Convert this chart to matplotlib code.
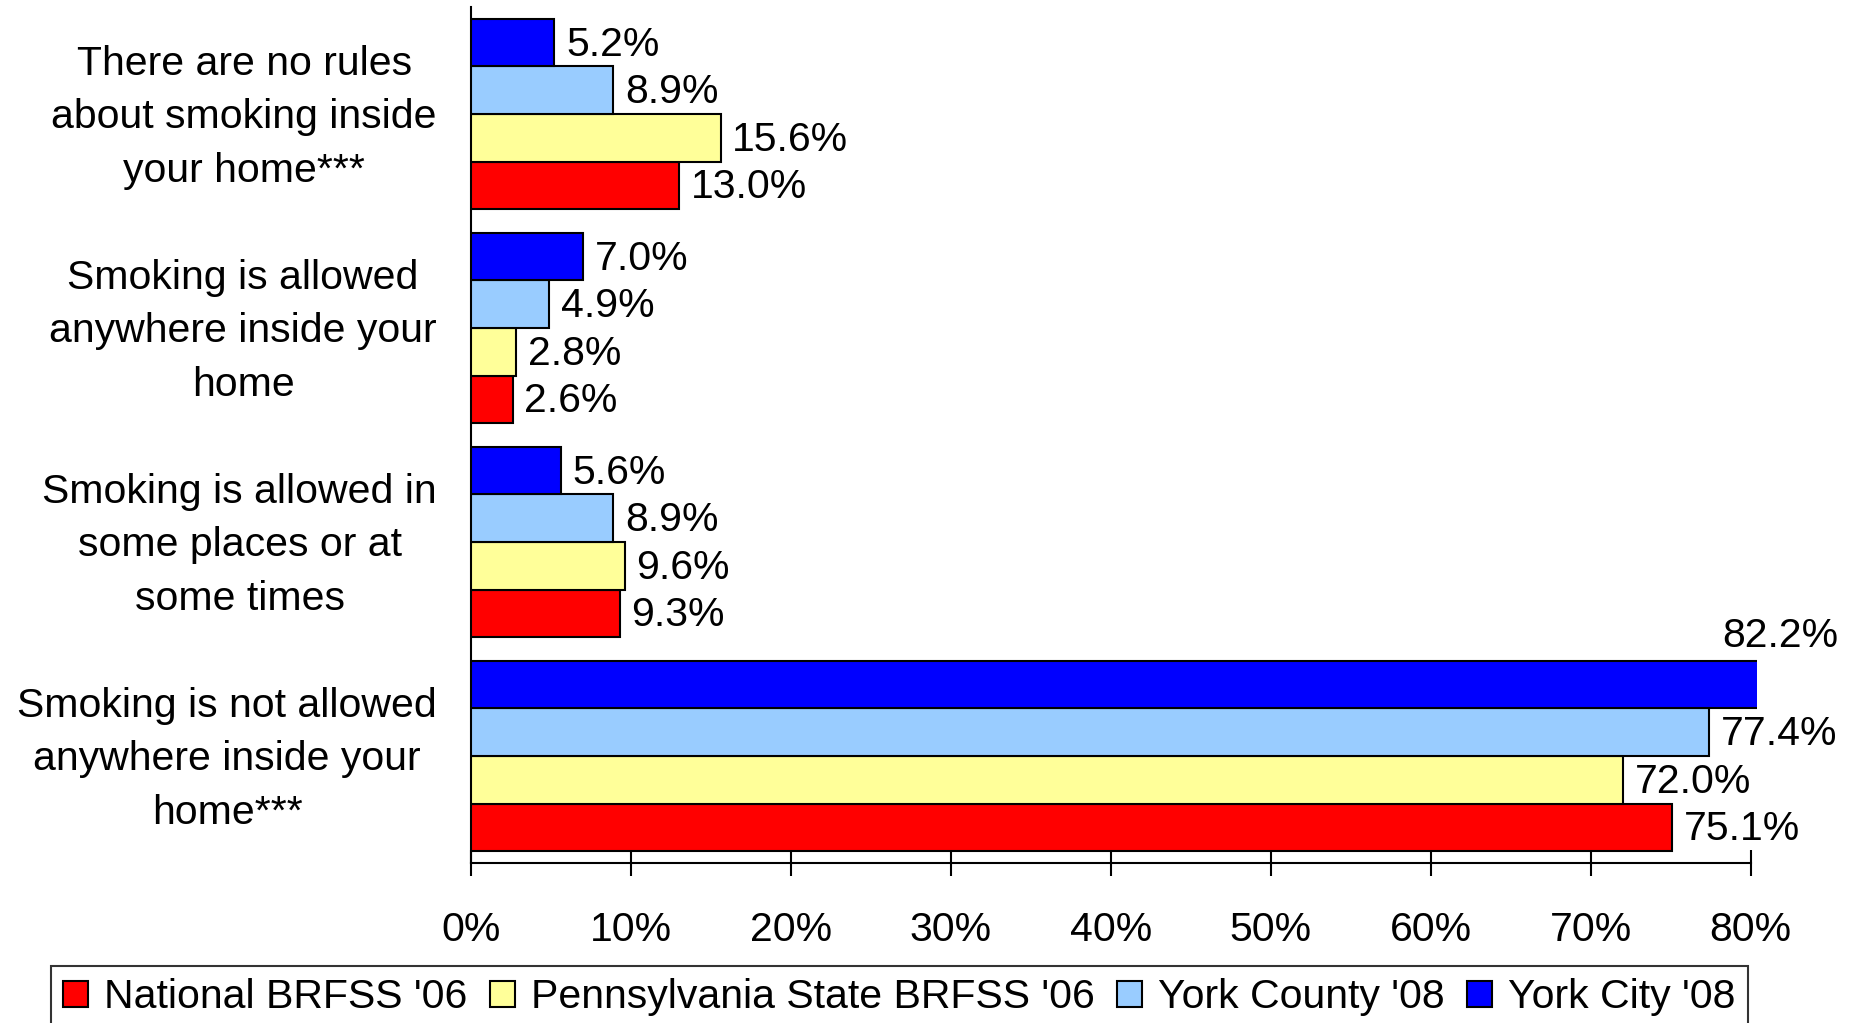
import matplotlib
matplotlib.use("Agg")
import matplotlib.pyplot as plt
from matplotlib.patches import Patch
import numpy as np

plt.rcParams['font.family'] = ['Liberation Sans', 'DejaVu Sans']

categories = [
    "There are no rules\nabout smoking inside\nyour home***",
    "Smoking is allowed\nanywhere inside your\nhome",
    "Smoking is allowed in\nsome places or at\nsome times",
    "Smoking is not allowed\nanywhere inside your\nhome***",
]
series_names = ["National BRFSS '06", "Pennsylvania State BRFSS '06",
                "York County '08", "York City '08"]
national = [13.0, 2.6, 9.3, 75.1]
pennsylvania = [15.6, 2.8, 9.6, 72.0]
york_county = [8.9, 4.9, 8.9, 77.4]
york_city = [5.2, 7.0, 5.6, 82.2]
x_ticks = [0, 10, 20, 30, 40, 50, 60, 70, 80]
x_tick_labels = ["0%", "10%", "20%", "30%", "40%", "50%", "60%", "70%", "80%"]

colors = ["#FF0000", "#FFFF99", "#99CCFF", "#0000FF"]
series = [national, pennsylvania, york_county, york_city]

W, H = 1860, 1023
fig = plt.figure(figsize=(W / 100, H / 100), dpi=100)
ax = fig.add_axes([471 / W, 1 - 863 / H, (1757 - 471) / W, (863 - 7) / H])

FS = 29.5
xmax = 80.4
h = 0.222
offsets = [1.5 * h, 0.5 * h, -0.5 * h, -1.5 * h]  # red bottom, blue top (axis inverted)
y = np.arange(len(categories))

for vals, col, off in zip(series, colors, offsets):
    ypos = y + off
    ax.barh(ypos, vals, height=h, color=col, edgecolor="black", linewidth=1.5, zorder=3)
    for yy, v in zip(ypos, vals):
        if v <= xmax:
            ax.annotate(f"{v:.1f}%", xy=(v, yy), xytext=(8.5, -1.5), textcoords="offset points",
                        ha="left", va="center", fontsize=FS)
        else:
            ax.annotate(f"{v:.1f}%", xy=(xmax, yy), xytext=(-25, 35), textcoords="offset points",
                        ha="left", va="center", fontsize=FS, annotation_clip=False)

ax.set_xlim(0, xmax)
ax.set_ylim(len(categories) - 0.5, -0.5)
ax.set_xticks(x_ticks)
ax.set_xticklabels(x_tick_labels, fontsize=FS)
ax.set_yticks(y)
ax.set_yticklabels([])
for yy, cat in zip(y, categories):
    ax.annotate(cat, xy=(0, yy), xytext=(-24.5, -2.5), textcoords="offset points",
                ha="right", va="center", multialignment="center",
                linespacing=1.51, fontsize=FS, annotation_clip=False)

for s in ["top", "right"]:
    ax.spines[s].set_visible(False)
ax.spines["bottom"].set_bounds(0, 80)
ax.spines["bottom"].set_linewidth(1.5)
ax.spines["left"].set_linewidth(1.5)
ax.tick_params(axis="x", direction="inout", length=19, width=1.5, pad=25)
ax.tick_params(axis="y", length=0)

handles = [Patch(facecolor=c, edgecolor="black", linewidth=1.5) for c in colors]
leg = fig.legend(handles, series_names, loc="upper left",
                 bbox_to_anchor=(51 / W, 1 - 966 / H), ncol=4, fontsize=FS,
                 frameon=True, fancybox=False, handlelength=0.61, handleheight=0.61,
                 handletextpad=0.39, columnspacing=0.55, borderpad=0.3, borderaxespad=0)
leg.get_frame().set_edgecolor("black")
leg.get_frame().set_linewidth(1.5)

fig.savefig("out.png", dpi=100)
